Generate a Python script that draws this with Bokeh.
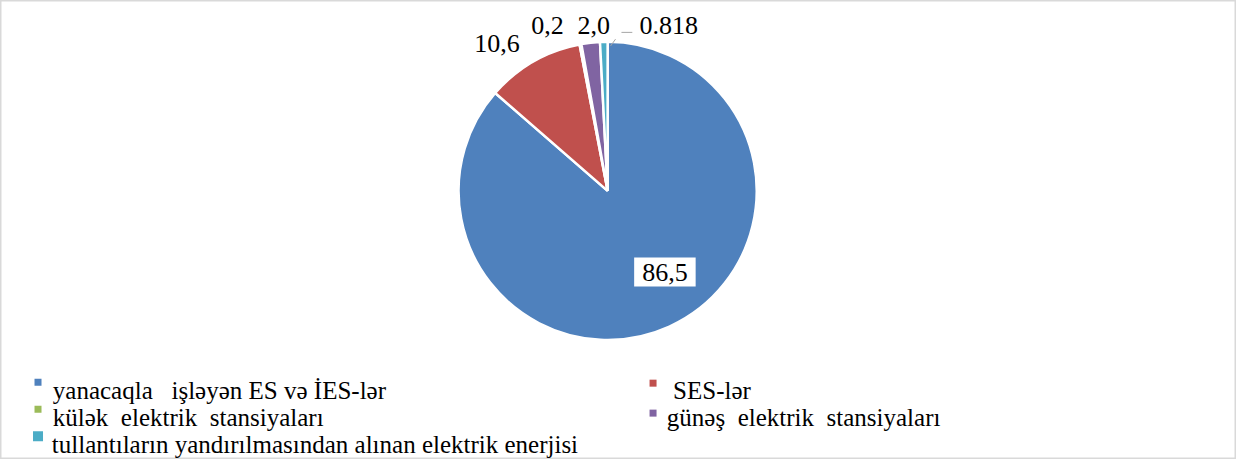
import math
from bokeh.plotting import figure
from bokeh.models import Range1d, ColumnDataSource
from bokeh.core.properties import value
from bokeh.embed import file_html
from bokeh.resources import INLINE

# ---- data ----
categories = [
    "yanacaqla\u00a0\u00a0 işləyən ES və İES-lər",
    "\u00a0SES-lər",
    "külək\u00a0 elektrik\u00a0 stansiyaları",
    "günəş\u00a0 elektrik\u00a0 stansiyaları",
    "tullantıların yandırılmasından alınan elektrik enerjisi",
]
values = [86.5, 10.6, 0.2, 2.0, 0.818]
value_labels = ["86,5", "10,6", "0,2", "2,0", "0.818"]
colors = ["#4F81BD", "#C0504D", "#9BBB59", "#8064A2", "#4BACC6"]

# ---- layout (reference pixel coordinates; y data = H - ref_y) ----
W, H = 1252, 475
FONT = "Liberation Serif"
cx, cy = 615, H - 197
R = 151

p = figure(width=1236, height=459, x_range=Range1d(0, W), y_range=Range1d(0, H),
           min_border=0, output_backend="svg", toolbar_location=None)
p.axis.visible = False
p.grid.visible = False
p.outline_line_color = "#d9d9d9"
p.outline_line_width = 2
p.background_fill_color = "white"
p.border_fill_color = "white"

total = sum(values)
starts, ends = [], []
c = 0.0
for v in values:
    c0 = c / total
    c += v
    c1 = c / total
    starts.append(math.pi / 2 - 2 * math.pi * c1)
    ends.append(math.pi / 2 - 2 * math.pi * c0)

src = ColumnDataSource(dict(x=[cx] * len(values), y=[cy] * len(values),
                            start=starts, end=ends, color=colors))
p.wedge(x="x", y="y", radius=R, start_angle="start", end_angle="end",
        fill_color="color", line_color="white", line_width=2.5, source=src)

# data labels (offsets from pie centre, reference pixels, +dy = down)
label_offsets = [(58, 84), (-112, -152), (-61, -171), (-14, -171), (62, -171)]
outside = [1, 2, 3, 4]
lx = [cx + label_offsets[i][0] for i in outside]
ly = [cy - label_offsets[i][1] for i in outside]
p.text(x=lx, y=ly, text=[value_labels[i] for i in outside], text_font=value(FONT),
       text_font_size="26px", text_align="center", text_baseline="middle", text_color="#000000")
# inside label with white box
p.text(x=[cx + label_offsets[0][0]], y=[cy - label_offsets[0][1]], text=[value_labels[0]],
       text_font=value(FONT), text_font_size="26px", text_align="center", text_baseline="middle",
       text_color="#000000", background_fill_color="white", padding=(8, 6))

# leader line for the small slice label
p.line(x=[618, 623], y=[H - 47, H - 40], line_color="#a6a6a6", line_width=1)
p.line(x=[629, 640], y=[H - 33, H - 33], line_color="#a6a6a6", line_width=1)

# ---- legend ----
leg_marker_x = [38, 661, 38, 661, 38]
leg_marker_y = [395, 396, 423, 427, 451]
leg_marker_s = [7, 7, 7, 7, 10]
leg_text_x = [53, 675, 53, 675, 52]
leg_text_y = [404, 404, 432, 432, 459]
p.scatter(x=leg_marker_x, y=[H - v for v in leg_marker_y], size=leg_marker_s, marker="square",
          fill_color=colors, line_color=None)
p.text(x=leg_text_x, y=[H - v for v in leg_text_y], text=categories, text_font=value(FONT),
       text_font_size="25px", text_align="left", text_baseline="alphabetic", text_color="#000000")

open("out.html", "w").write(file_html(p, INLINE))
